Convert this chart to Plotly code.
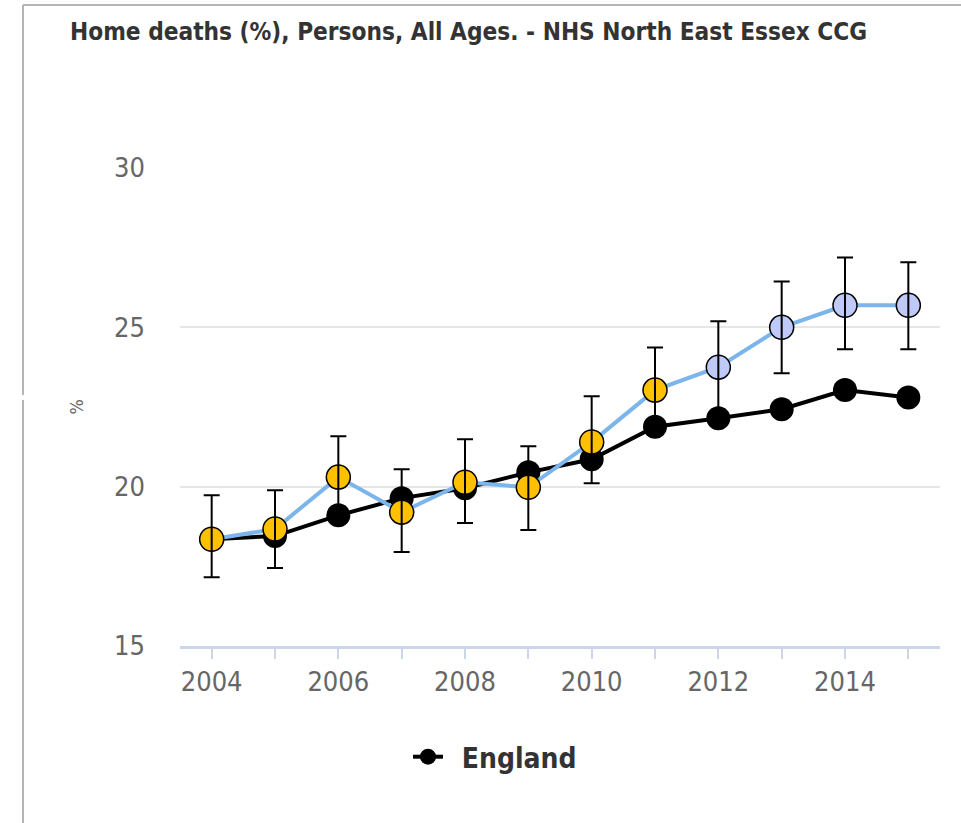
import plotly.graph_objects as go

# Home deaths (%), persons, all ages
years = [2004, 2005, 2006, 2007, 2008, 2009, 2010, 2011, 2012, 2013, 2014, 2015]
tick_labels = ["2004", "", "2006", "", "2008", "", "2010", "", "2012", "", "2014", ""]

ccg_value = [18.35, 18.67, 20.30, 19.20, 20.14, 19.98, 21.40, 23.03, 23.75, 25.00, 25.69, 25.69]
ccg_upper = [19.73, 19.89, 21.58, 20.55, 21.49, 21.27, 22.84, 24.37, 25.19, 26.44, 27.19, 27.04]
ccg_lower = [17.16, 17.45, 19.05, 17.95, 18.86, 18.64, 20.11, 21.72, 22.33, 23.56, 24.31, 24.31]
# significance compared with England: similar (amber) / higher (light blue)
ccg_signif = ["same"] * 8 + ["higher"] * 4

england_value = [18.35, 18.45, 19.10, 19.64, 19.95, 20.45, 20.86, 21.88, 22.15, 22.43, 23.03, 22.80]

signif_colours = {"same": "#FFC000", "higher": "#BFCAF8"}
FONT = "DejaVu Sans Condensed, DejaVu Sans, sans-serif"

W, H = 961, 823
L, R, T, B = 180, 21, 168, 177
pw, ph = W - L - R, H - T - B


def px_x(x):
    return (x - L) / pw


def px_y(y):
    return (H - B - y) / ph


fig = go.Figure()

fig.add_trace(go.Scatter(
    x=years, y=england_value, name="<b>\u00a0\u2009England</b>", mode="lines+markers",
    line=dict(color="#000000", width=4),
    marker=dict(color="#000000", size=24, line=dict(width=0)),
))

fig.add_trace(go.Scatter(
    x=years, y=ccg_value, name="NHS North East Essex CCG", mode="lines+markers",
    line=dict(color="#7cb5ec", width=4),
    marker=dict(color=[signif_colours[s] for s in ccg_signif], size=24,
                line=dict(color="#000000", width=1.5)),
    showlegend=False,
))

# confidence intervals drawn above the markers
fig.add_trace(go.Scatter(
    x=years, y=ccg_value, mode="markers", marker=dict(opacity=0, size=1),
    error_y=dict(type="data", symmetric=False,
                 array=[u - v for u, v in zip(ccg_upper, ccg_value)],
                 arrayminus=[v - l for v, l in zip(ccg_value, ccg_lower)],
                 color="#000000", thickness=2, width=8),
    showlegend=False, hoverinfo="skip",
))

# chart container frame
frame = "#b4b4b4"
fx = px_x(23)
shapes = [
    dict(type="line", xref="paper", yref="paper", x0=fx, x1=px_x(W), y0=px_y(5), y1=px_y(5),
         line=dict(color=frame, width=2)),
    dict(type="line", xref="paper", yref="paper", x0=fx, x1=fx, y0=px_y(5), y1=px_y(395),
         line=dict(color=frame, width=2)),
    dict(type="line", xref="paper", yref="paper", x0=fx, x1=fx, y0=px_y(400), y1=px_y(H),
         line=dict(color=frame, width=2)),
]

fig.update_layout(
    width=W, height=H,
    margin=dict(l=L, r=R, t=T, b=B),
    paper_bgcolor="#ffffff", plot_bgcolor="#ffffff",
    font=dict(family=FONT, color="#666666"),
    title=dict(text="<b>Home deaths (%), Persons, All Ages. - NHS North East Essex CCG</b>",
               x=70 / W, xanchor="left", y=1 - 32 / H, yanchor="middle",
               font=dict(family=FONT, size=24.2, color="#333333")),
    xaxis=dict(range=[2003.5, 2015.5], tickvals=years, ticktext=tick_labels,
               showgrid=False, zeroline=False, showline=True, linecolor="#ccd6eb", linewidth=3,
               ticks="outside", ticklen=10, tickwidth=2, tickcolor="#ccd6eb",
               tickfont=dict(size=27, color="#666666"), ticklabelstandoff=0),
    yaxis=dict(range=[15, 30], tickvals=[15, 20, 25, 30], showgrid=True, gridcolor="#e6e6e6",
               gridwidth=2, zeroline=False, showline=False, ticks="",
               tickfont=dict(size=27, color="#666666"), ticklabelstandoff=34),
    legend=dict(orientation="h", x=px_x(408), xanchor="left", y=px_y(757), yanchor="middle",
                font=dict(family=FONT, size=28, color="#333333"), bgcolor="rgba(0,0,0,0)"),
    shapes=shapes,
    annotations=[dict(text="%", xref="paper", yref="paper", x=px_x(63), y=px_y(407),
                      showarrow=False, textangle=-90, font=dict(size=18, color="#666666"))],
    showlegend=True,
)

fig.write_html("out.html")
